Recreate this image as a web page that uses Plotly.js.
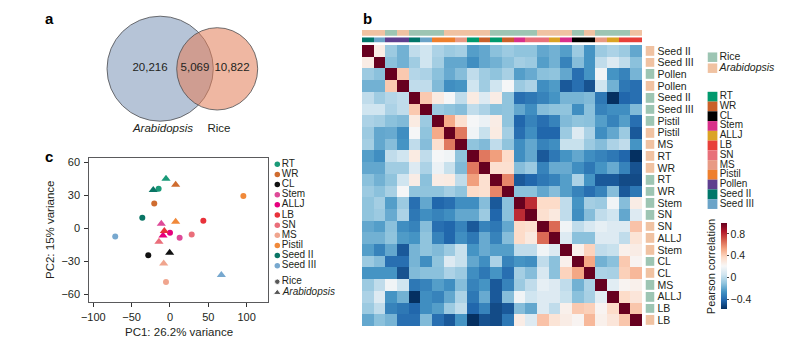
<!DOCTYPE html>
<html><head><meta charset="utf-8">
<script src="https://cdn.plot.ly/plotly-3.0.1.min.js"></script>
<style>html,body{margin:0;padding:0;background:#fff}#chart{width:785px;height:347px}</style>
</head><body><div id="chart"></div>
<script>
const W = 785, H = 347;
const px = x => x / W, py = y => 1 - y / H;
const FONT = 'Liberation Sans, Arial, sans-serif';
const TXT = '#231f20';

// ---------- panel a: Venn ----------
const vennSets = ['Arabidopsis', 'Rice'];
const vennCounts = [20216, 5069, 10822]; // Arabidopsis only, shared, Rice only

// ---------- panel b: correlation heatmap ----------
const rowLabels = ['Seed II','Seed III','Pollen','Pollen','Seed II','Seed III','Pistil','Pistil','MS','RT','WR','RT','WR','Stem','SN','SN','ALLJ','Stem','CL','CL','MS','ALLJ','LB','LB'];
const rowSpecies = ['Arabidopsis','Arabidopsis','Rice','Arabidopsis','Rice','Rice','Rice','Arabidopsis','Arabidopsis','Arabidopsis','Arabidopsis','Rice','Rice','Rice','Rice','Arabidopsis','Arabidopsis','Arabidopsis','Rice','Arabidopsis','Rice','Rice','Rice','Arabidopsis'];
const corr = [
[1,0.27,-0.08,-0.17,0.01,0.05,-0.04,-0.08,-0.06,-0.23,-0.2,-0.12,-0.08,-0.11,-0.11,-0.2,-0.17,-0.23,-0.08,-0.26,-0.08,-0.04,-0.08,-0.2],
[0.27,1,-0.12,-0.17,-0.07,0.05,-0.06,-0.2,-0.2,-0.28,-0.2,-0.17,-0.12,-0.06,-0.08,-0.23,-0.17,-0.32,-0.13,-0.26,0.01,0.1,0.01,-0.12],
[-0.08,-0.12,1,0.42,-0.02,-0.04,-0.12,-0.19,-0.13,0.01,-0.07,-0.11,-0.05,-0.23,-0.19,-0.12,-0.11,-0.2,-0.39,-0.26,0.18,-0.26,-0.32,-0.16],
[-0.17,-0.17,0.42,1,0.01,0.01,-0.14,-0.28,-0.26,0.05,-0.07,0.05,0.2,-0.08,-0.04,-0.28,-0.24,-0.46,-0.39,-0.48,0.05,-0.17,-0.36,-0.39],
[0.01,-0.07,-0.02,0.01,1,0.42,0.28,0.2,0.01,0.28,0.1,0.27,-0.11,-0.39,-0.36,-0.32,-0.26,-0.16,-0.16,-0.14,-0.36,-0.58,-0.42,-0.39],
[0.05,0.05,-0.04,0.01,0.42,1,-0.08,-0.11,-0.13,0.01,-0.04,-0.12,-0.11,-0.2,-0.28,-0.13,-0.11,-0.11,-0.28,-0.12,-0.32,-0.28,-0.28,-0.14],
[-0.04,-0.06,-0.12,-0.14,0.28,-0.08,1,0.51,0.34,0.2,0.16,0.27,-0.11,-0.42,-0.32,-0.39,-0.32,-0.14,-0.11,-0.12,-0.23,-0.32,-0.23,-0.39],
[-0.08,-0.2,-0.19,-0.28,0.2,-0.11,0.51,1,0.63,0.18,0.03,0.28,-0.06,-0.39,-0.28,-0.42,-0.42,-0.08,0.1,-0.04,-0.28,-0.2,-0.08,-0.46],
[-0.06,-0.2,-0.13,-0.26,0.01,-0.13,0.34,0.63,1,-0.11,-0.14,0.01,-0.11,-0.28,-0.2,-0.32,-0.28,0.03,0.03,-0.08,-0.13,-0.04,0.01,-0.26],
[-0.23,-0.28,0.01,0.05,0.28,0.01,0.2,0.18,-0.11,1,0.63,0.54,0.36,-0.28,-0.2,-0.46,-0.36,-0.26,-0.2,-0.28,-0.32,-0.36,-0.42,-0.58],
[-0.2,-0.2,-0.07,-0.07,0.1,-0.04,0.16,0.03,-0.14,0.63,1,0.34,0.34,-0.13,-0.08,-0.32,-0.19,-0.19,-0.28,-0.36,-0.26,-0.19,-0.32,-0.48],
[-0.12,-0.17,-0.11,0.05,0.27,-0.12,0.27,0.28,0.01,0.54,0.34,1,0.6,-0.46,-0.42,-0.36,-0.32,-0.23,-0.04,-0.26,-0.46,-0.46,-0.5,-0.5],
[-0.08,-0.12,-0.05,0.2,-0.11,-0.11,-0.11,-0.06,-0.11,0.36,0.34,0.6,1,-0.12,-0.12,-0.2,-0.13,-0.23,-0.32,-0.39,-0.32,-0.13,-0.46,-0.36],
[-0.11,-0.06,-0.23,-0.08,-0.39,-0.2,-0.42,-0.39,-0.28,-0.28,-0.13,-0.46,-0.12,1,0.8,0.36,0.36,0.01,-0.26,-0.06,-0.08,0.18,-0.13,0.27],
[-0.11,-0.08,-0.19,-0.04,-0.36,-0.28,-0.32,-0.28,-0.2,-0.2,-0.08,-0.42,-0.12,0.8,1,0.34,0.29,0.01,-0.28,-0.13,0.01,0.05,-0.2,0.1],
[-0.2,-0.23,-0.12,-0.28,-0.32,-0.13,-0.39,-0.42,-0.32,-0.46,-0.32,-0.36,-0.2,0.36,0.34,1,0.66,0.18,0.01,0.08,0.14,0.1,0.1,0.44],
[-0.17,-0.17,-0.11,-0.24,-0.26,-0.11,-0.32,-0.42,-0.28,-0.36,-0.19,-0.32,-0.13,0.36,0.29,0.66,1,0.1,-0.12,-0.12,0.1,0.1,0.01,0.32],
[-0.23,-0.32,-0.2,-0.46,-0.16,-0.11,-0.14,-0.08,0.03,-0.26,-0.19,-0.23,-0.23,0.01,0.01,0.18,0.1,1,0.25,0.39,0.01,0.03,0.25,0.27],
[-0.08,-0.13,-0.39,-0.39,-0.16,-0.28,-0.11,0.1,0.03,-0.2,-0.28,-0.04,-0.32,-0.26,-0.28,0.01,-0.12,0.25,1,0.52,-0.17,-0.12,0.42,0.23],
[-0.26,-0.26,-0.26,-0.48,-0.14,-0.12,-0.12,-0.04,-0.08,-0.28,-0.36,-0.26,-0.39,-0.06,-0.13,0.08,-0.12,0.39,0.52,1,-0.04,-0.05,0.4,0.47],
[-0.08,0.01,0.18,0.05,-0.36,-0.32,-0.23,-0.28,-0.13,-0.32,-0.26,-0.46,-0.32,-0.08,0.01,0.14,0.1,0.01,-0.17,-0.04,1,0.12,0.23,0.25],
[-0.04,0.1,-0.26,-0.17,-0.58,-0.28,-0.32,-0.2,-0.04,-0.36,-0.19,-0.46,-0.13,0.18,0.05,0.1,0.1,0.03,-0.12,-0.05,0.12,1,0.36,0.31],
[-0.08,0.01,-0.32,-0.36,-0.42,-0.28,-0.23,-0.08,0.01,-0.42,-0.32,-0.5,-0.46,-0.13,-0.2,0.1,0.01,0.25,0.42,0.4,0.23,0.36,1,0.43],
[-0.2,-0.12,-0.16,-0.39,-0.39,-0.14,-0.39,-0.46,-0.26,-0.58,-0.48,-0.5,-0.36,0.27,0.1,0.44,0.32,0.27,0.23,0.47,0.25,0.31,0.43,1]
];
const tissueOrder = ['RT','WR','CL','Stem','ALLJ','LB','SN','MS','Pistil','Pollen','Seed II','Seed III'];
const tissueColors = ['#009a6e','#c9602a','#000000','#d8308a','#dba324','#e8403a','#e8707a','#e89a84','#ee7f2d','#5e3f8f','#00766a','#6ba4c8'];
const speciesNames = ['Rice','Arabidopsis'];
const speciesColors = ['#9dc5b3','#f0c2a2'];
const corrTicks = [-0.4, 0, 0.4, 0.8];
const rdbu = ['#053061','#2166ac','#4393c3','#92c5de','#d1e5f0','#f7f7f7','#fddbc7','#f4a582','#d6604d','#b2182b','#67001f'];

// ---------- panel c: PCA ----------
const pcaTissues = ['RT','WR','CL','Stem','ALLJ','LB','SN','MS','Pistil','Seed II','Seed III'];
const pcaColors = ['#1a9a78','#cf6c2f','#111111','#de4a98','#e6007e','#e8313a','#ea6e7a','#f0a58e','#f0893a','#0a7565','#77a8cf'];
const ricePC1 = [-14.8,-20.5,-28.3,12.6,0.0,43.5,28.3,-5.2,95.7,-36.1,-71.4];
const ricePC2 = [35.8,22.4,-24.6,-8.8,-4.3,6.7,-5.8,-49.0,29.2,9.4,-7.6];
const araPC1 = [-5.2,7.4,-0.4,-11.3,-9.1,-7.4,-14.4,-8.2,7.4,-21.8,67.0];
const araPC2 = [45.0,39.5,-22.5,3.9,-6.7,-2.5,-12.5,-32.3,5.7,34.7,-42.6];

// ================= build =================
const n = rowLabels.length;
const idx = rowLabels.map((_, i) => i);
const spIdx = rowSpecies.map(s => speciesNames.indexOf(s));
const tiIdx = rowLabels.map(t => tissueOrder.indexOf(t));
const zmin = -0.58, zmax = 1.0;
const cscale = rdbu.map((c, i) => [i / (rdbu.length - 1), c]);
const discrete = cols => {
  const out = [];
  cols.forEach((c, i) => { out.push([i / cols.length, c]); out.push([(i + 1) / cols.length, c]); });
  return out;
};

const traces = [];
traces.push({
  type: 'heatmap', x: idx, y: idx, z: corr, xaxis: 'x', yaxis: 'y',
  colorscale: cscale, zmin: zmin, zmax: zmax, hoverinfo: 'skip',
  colorbar: {
    x: px(721), xanchor: 'left', y: py(266), yanchor: 'middle', len: 86 / H,
    thickness: 6, outlinewidth: 0, xpad: 0, ypad: 0,
    tickvals: corrTicks, ticks: 'outside', ticklen: 2, tickcolor: '#444',
    tickfont: { family: FONT, size: 10.5, color: TXT }
  }
});
traces.push({
  type: 'heatmap', x: idx, y: [0], z: [spIdx], xaxis: 'x', yaxis: 'y2',
  colorscale: discrete(speciesColors), zmin: -0.5, zmax: 1.5, showscale: false, hoverinfo: 'skip'
});
traces.push({
  type: 'heatmap', x: idx, y: [0], z: [tiIdx], xaxis: 'x', yaxis: 'y3',
  colorscale: discrete(tissueColors), zmin: -0.5, zmax: tissueColors.length - 0.5, showscale: false, hoverinfo: 'skip'
});
traces.push({
  type: 'heatmap', x: [0], y: idx, z: spIdx.map(v => [v]), xaxis: 'x4', yaxis: 'y4',
  colorscale: discrete(speciesColors), zmin: -0.5, zmax: 1.5, showscale: false, ygap: 2.2, hoverinfo: 'skip'
});
traces.push({
  type: 'scatter', mode: 'markers+text', xaxis: 'x6', yaxis: 'y6', hoverinfo: 'skip', cliponaxis: false,
  x: speciesNames.map(() => 712.5), y: speciesNames.map((_, i) => 57.2 + i * 11),
  marker: { symbol: 'square', size: 9.5, color: speciesColors },
  text: speciesNames.map(s => s === 'Arabidopsis' ? '<i>' + s + '</i>' : s),
  textposition: 'middle right', textfont: { family: FONT, size: 10.5, color: TXT }
});
traces.push({
  type: 'scatter', mode: 'markers+text', xaxis: 'x6', yaxis: 'y6', hoverinfo: 'skip', cliponaxis: false,
  x: tissueOrder.map(() => 712.5), y: tissueOrder.map((_, i) => 96.7 + i * 9.76),
  marker: { symbol: 'square', size: 9.8, color: tissueColors },
  text: tissueOrder, textposition: 'middle right', textfont: { family: FONT, size: 10, color: TXT }
});
traces.push({
  type: 'scatter', mode: 'text', xaxis: 'x6', yaxis: 'y6', hoverinfo: 'skip', cliponaxis: false,
  x: [150, 195, 232], y: [68.5, 68.5, 68.5],
  text: vennCounts.map(v => v.toLocaleString('en-US')),
  textfont: { family: FONT, size: 11.5, color: TXT }
});
traces.push({
  type: 'scatter', mode: 'text', xaxis: 'x6', yaxis: 'y6', hoverinfo: 'skip', cliponaxis: false,
  x: [163, 219], y: [129, 129],
  text: vennSets.map(s => s === 'Arabidopsis' ? '<i>' + s + '</i>' : s),
  textfont: { family: FONT, size: 11.5, color: TXT }
});
pcaTissues.forEach((t, i) => {
  traces.push({
    type: 'scatter', mode: 'markers', xaxis: 'x5', yaxis: 'y5', hoverinfo: 'skip', showlegend: false,
    x: [ricePC1[i]], y: [ricePC2[i]], marker: { symbol: 'circle', size: 6, color: pcaColors[i] }
  });
  traces.push({
    type: 'scatter', mode: 'markers', xaxis: 'x5', yaxis: 'y5', hoverinfo: 'skip', showlegend: false,
    x: [araPC1[i]], y: [araPC2[i]], marker: { symbol: 'triangle-up', size: 8, color: pcaColors[i] }
  });
});
traces.push({
  type: 'scatter', mode: 'markers+text', xaxis: 'x6', yaxis: 'y6', hoverinfo: 'skip', cliponaxis: false,
  x: pcaTissues.map(() => 277.3), y: pcaTissues.map((_, i) => 164.3 + i * 10.14),
  marker: { symbol: 'circle', size: 5.5, color: pcaColors },
  text: pcaTissues, textposition: 'middle right', textfont: { family: FONT, size: 10, color: TXT }
});
traces.push({
  type: 'scatter', mode: 'markers+text', xaxis: 'x6', yaxis: 'y6', hoverinfo: 'skip', cliponaxis: false,
  x: [277.3, 277.3], y: [281.7, 292.7],
  marker: { symbol: ['circle', 'triangle-up'], size: [5.5, 7], color: '#111' },
  text: ['Rice', '<i>Arabidopsis</i>'], textposition: 'middle right', textfont: { family: FONT, size: 10, color: TXT }
});

const hidden = { visible: false, fixedrange: true, showgrid: false, zeroline: false };
const hmX = [px(362), px(642)], hmY = [py(326), py(45)];
const ann = (text, x, y, size, extra) => Object.assign({
  text: text, x: px(x), y: py(y), xref: 'paper', yref: 'paper', xanchor: 'center', yanchor: 'middle',
  showarrow: false, font: { family: FONT, size: size, color: TXT }
}, extra || {});
const layout = {
  width: W, height: H, margin: { l: 0, r: 0, t: 0, b: 0 }, autosize: false,
  paper_bgcolor: '#fff', plot_bgcolor: 'rgba(0,0,0,0)', showlegend: false,
  font: { family: FONT, color: TXT },
  xaxis: Object.assign({}, hidden, { domain: hmX, range: [-0.5, n - 0.5], anchor: 'y' }),
  yaxis: Object.assign({}, hidden, { domain: hmY, range: [n - 0.5, -0.5], anchor: 'x' }),
  yaxis2: Object.assign({}, hidden, { domain: [py(35.7), py(30)], range: [-0.5, 0.5], anchor: 'x' }),
  yaxis3: Object.assign({}, hidden, { domain: [py(42.7), py(37.3)], range: [-0.5, 0.5], anchor: 'x' }),
  xaxis4: Object.assign({}, hidden, { domain: [px(645.5), px(654.5)], range: [-0.5, 0.5], anchor: 'y4' }),
  yaxis4: {
    domain: hmY, range: [n - 0.5, -0.5], anchor: 'x4', side: 'right', fixedrange: true,
    showgrid: false, zeroline: false, showline: false, ticks: '', ticklabelstandoff: 2,
    tickvals: idx, ticktext: rowLabels, tickfont: { family: FONT, size: 10.5, color: TXT }
  },
  xaxis5: {
    domain: [px(89.3), px(268.3)], range: [-105.2, 128.2], anchor: 'y5', fixedrange: true,
    showgrid: false, zeroline: false, showline: true, mirror: true, linecolor: '#5a5a5c', linewidth: 1,
    ticks: 'outside', ticklen: 4, tickcolor: '#333', tickvals: [-100, -50, 0, 50, 100], ticklabelstandoff: 1,
    tickfont: { family: FONT, size: 11, color: TXT }
  },
  yaxis5: {
    domain: [py(301.7), py(158.3)], range: [-67, 63.6], anchor: 'x5', fixedrange: true,
    showgrid: false, zeroline: false, showline: true, mirror: true, linecolor: '#5a5a5c', linewidth: 1,
    ticks: 'outside', ticklen: 4, tickcolor: '#333', tickvals: [-60, -30, 0, 30, 60], ticklabelstandoff: 2,
    tickfont: { family: FONT, size: 11, color: TXT }
  },
  xaxis6: Object.assign({}, hidden, { domain: [0, 1], range: [0, W], anchor: 'y6' }),
  yaxis6: Object.assign({}, hidden, { domain: [0, 1], range: [H, 0], anchor: 'x6' }),
  shapes: [
    { type: 'circle', xref: 'x6', yref: 'y6', x0: 107, x1: 213.3, y0: 16.2, y1: 121.2, layer: 'below',
      fillcolor: '#b6c4d7', line: { color: '#4d4d4f', width: 0.8 } },
    { type: 'circle', xref: 'x6', yref: 'y6', x0: 176.7, x1: 257.7, y0: 27.7, y1: 110, layer: 'below',
      fillcolor: 'rgba(227,129,92,0.57)', line: { color: '#4d4d4f', width: 0.8 } }
  ],
  annotations: [
    ann('<b>a</b>', 49, 19, 15, { font: { family: FONT, size: 15, color: '#000' } }),
    ann('<b>b</b>', 367, 18, 15, { font: { family: FONT, size: 15, color: '#000' } }),
    ann('<b>c</b>', 49, 157, 15, { font: { family: FONT, size: 15, color: '#000' } }),
    ann('PC1: 26.2% variance', 179, 331.5, 11.5),
    ann('PC2: 15% variance', 50, 230, 11.5, { textangle: -90 }),
    ann('Pearson correlation', 710.7, 266.5, 11, { textangle: -90 })
  ]
};

Plotly.newPlot('chart', traces, layout, { staticPlot: true, displayModeBar: false });
</script></body></html>
